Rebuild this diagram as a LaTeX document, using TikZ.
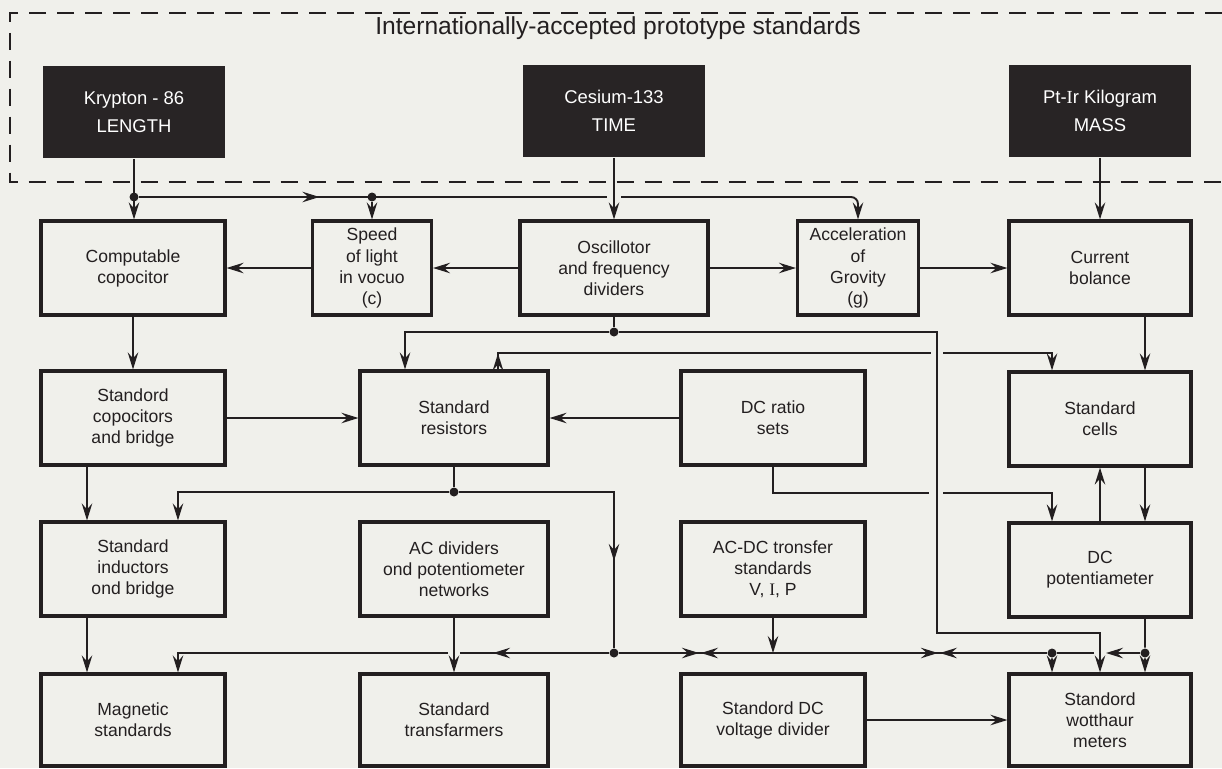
\documentclass[tikz,border=0pt]{standalone}
\usepackage{fontspec}
\setmainfont{Liberation Sans}
\newfontfamily\romanfont{Liberation Serif}
\usetikzlibrary{positioning, arrows.meta, decorations.markings}
\definecolor{paper}{RGB}{240,240,235}
\definecolor{ink}{RGB}{35,31,32}
\definecolor{protofill}{RGB}{40,36,37}
\newcommand{\romI}{{\romanfont I}}

\begin{document}
\begin{tikzpicture}[
    % GLOBAL CFG
    x=0.02cm, y=-0.02cm,
    font=\fontsize{10}{12}\selectfont,
    color=ink,
    >={Stealth[length=3.4mm, width=2.1mm, inset=1.2mm]},
    line width=1.1pt,
    % Styles
    cell/.style={% For the white boxes
        rectangle,
        draw=ink,
        line width=1.8pt,
        fill=paper,
        minimum width=3.68cm,
        minimum height=1.88cm,
        inner sep=1pt,
        align=center,
    },
    proto/.style={% For the prototype standards
        rectangle,
        fill=protofill,
        text=white,
        minimum width=3.64cm,
        minimum height=1.84cm,
        align=center,
        font=\fontsize{10.5}{16}\selectfont,
    },
    junction/.style={% For the dots
        circle,
        fill=ink,
        inner sep=0pt,
        minimum size=1.8mm,
    },
    heading/.style={
        font=\fontsize{14}{16}\selectfont
    },
    frame/.style={% Dashed frame
        dash pattern=on 0.34cm off 0.22cm,
        line width=1.2pt,
    },
    marrow/.style={% Arrow tip inside a line
        postaction={decorate, decoration={markings,
            mark=at position #1 with {\arrow{>}}}},
    },
    rarrow/.style={% Reversed arrow tip inside a line
        postaction={decorate, decoration={markings,
            mark=at position #1 with {\arrowreversed{>}}}},
    },
    ]

    % Draw background
    \fill[paper] (0,0) rectangle (1222,768);
    \useasboundingbox (0,0) rectangle (1222,768);
    \draw[frame] (1222,13) -- (10,13) -- (10,182) -- (1222,182);
    \node[heading] (title) at (618,28) {Internationally-accepted prototype standards};

    % Draw prototypes
    \node[proto] (kr) at (134,112) {Krypton - 86\\LENGTH};
    \node[proto] (cs) at (614,111) {Cesium-133\\TIME};
    \node[proto] (pt) at (1100,111) {Pt-\romI r Kilogram\\MASS};

    % Draw first row
    \node[cell] (comp) at (133,268) {Computable\\copocitor};
    \node[cell, minimum width=2.38cm] (spd) at (372,268) {Speed\\of light\\in vocuo\\(c)};
    \node[cell, minimum width=3.76cm] (osc) at (614,268) {Oscillotor\\and frequency\\dividers};
    \node[cell, minimum width=2.42cm] (acc) at (858,268) {Acceleration\\of\\Grovity\\(g)};
    \node[cell, minimum width=3.64cm] (cur) at (1100,268) {Current\\bolance};

    % Draw second row
    \node[cell] (cap) at (133,418) {Standord\\copocitors\\and bridge};
    \node[cell, minimum width=3.76cm] (res) at (454,418) {Standard\\resistors};
    \node[cell] (dcr) at (773,418) {DC ratio\\sets};
    \node[cell, minimum width=3.64cm] (cel) at (1100,419) {Standard\\cells};

    % Draw third row
    \node[cell] (ind) at (133,569) {Standard\\inductors\\ond bridge};
    \node[cell, minimum width=3.76cm] (acd) at (454,569) {AC dividers\\ond potentiometer\\networks};
    \node[cell] (acdc) at (773,569) {AC-DC tronsfer\\standards\\V, \romI, P};
    \node[cell, minimum width=3.64cm] (pot) at (1100,570) {DC\\potentiameter};

    % Draw fourth row
    \node[cell, minimum height=1.84cm] (mag) at (133,720) {Magnetic\\standards};
    \node[cell, minimum height=1.84cm, minimum width=3.76cm] (trf) at (454,720) {Standard\\transfarmers};
    \node[cell, minimum height=1.84cm] (vdv) at (773,720) {Standord DC\\voltage divider};
    \node[cell, minimum height=1.84cm, minimum width=3.64cm] (wat) at (1100,720) {Standord\\wotthaur\\meters};

    % Junctions named j#, line breaks named gap#
    \node[junction] (jkr) at (134,197) {};
    \node[junction] (jspd) at (372,197) {};
    \node[junction] (josc) at (614,332) {};
    \node[junction] (jres) at (454,492) {};
    \node[junction] (jbus) at (614,653) {};
    \node[junction] (jwat) at (1052,653) {};
    \node[junction] (jpot) at (1145,653) {};
    \coordinate (gapA) at (607,197);
    \coordinate (gapB) at (621,197);
    \coordinate (gapC) at (931,353);
    \coordinate (gapD) at (943,353);
    \coordinate (gapE) at (929,493);
    \coordinate (gapF) at (943,493);
    \coordinate (gapG) at (460,653);
    \coordinate (gapH) at (448,653);
    \coordinate (gapI) at (1106,653);
    \coordinate (gapJ) at (1094,653);
    \coordinate (bendW) at (937,633);

    % Connect prototypes
    \draw[->] (kr) -- (kr |- comp.north);
    \draw[->] (cs) -- (osc);
    \draw[->] (pt) -- (cur);
    \draw[marrow=3.6cm] (jkr) -- (gapA);
    \draw[->] (jspd) -- (spd);
    \draw[->, rounded corners=4pt] (gapB) -| (acc.north);

    % First row
    \draw[->] (osc) -- (spd);
    \draw[->] (spd) -- (comp);
    \draw[->] (osc) -- (acc);
    \draw[->] (acc) -- (cur);
    \draw[->] (comp) -- (cap);
    \draw[->] ([xshift=0.9cm]cur.south) -- ([xshift=0.9cm]cel.north);
    \draw (osc) -- (josc);
    \draw[->] (josc) -| ([xshift=-0.98cm]res.north);
    \draw[->] (josc) -| (bendW) -| (wat.north);

    % Second row
    \draw[marrow=0.32cm] ([xshift=0.88cm]res.north) |- (gapC);
    \draw[->] (gapD) -| ([xshift=-0.96cm]cel.north);
    \draw[->] (cap) -- (res);
    \draw[->] (dcr) -- (res);
    \draw (dcr) |- (gapE);
    \draw[->] (gapF) -| ([xshift=-0.96cm]pot.north);
    \draw[->] (pot) -- (cel);
    \draw[->] ([xshift=0.9cm]cel.south) -- ([xshift=0.9cm]pot.north);
    \draw[->] ([xshift=-0.92cm]cap.south) -- ([xshift=-0.92cm]ind.north);
    \draw (res) -- (jres);
    \draw[->] (jres) -| ([xshift=0.9cm]ind.north);
    \draw[marrow=4.47cm] (jres) -| (jbus);

    % Third row and bus
    \draw[->] ([xshift=-0.92cm]ind.south) -- ([xshift=-0.92cm]mag.north);
    \draw[->] (acd) -- (trf);
    \draw[marrow=2.31cm] (jbus) -- (gapG);
    \draw[->] (gapH) -| ([xshift=0.9cm]mag.north);
    \draw[marrow=1.59cm, rarrow=1.63cm, marrow=6.37cm, rarrow=6.41cm] (jbus) -- (jwat);
    \draw[->] (acdc) -- (acdc |- jbus);
    \draw[->] (jwat) -- ([xshift=-0.96cm]wat.north);
    \draw[->] (jpot) -- (gapI);
    \draw (gapJ) -- (jwat);
    \draw ([xshift=0.9cm]pot.south) -- (jpot);
    \draw[->] (jpot) -- ([xshift=0.9cm]wat.north);
    \draw[->] (vdv) -- (wat);

\end{tikzpicture}
\end{document}
